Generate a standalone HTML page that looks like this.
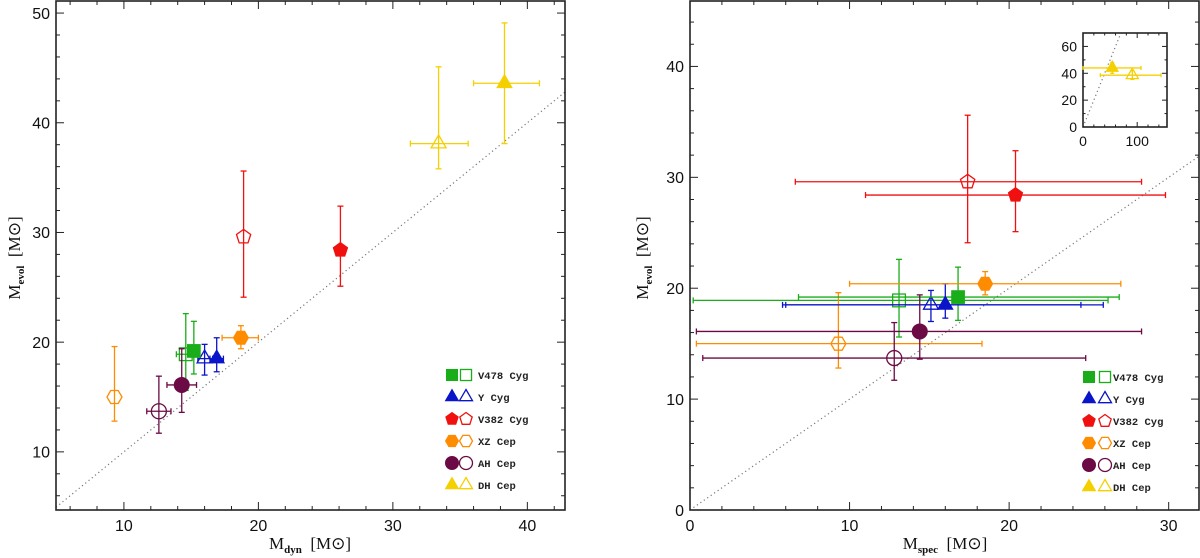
<!DOCTYPE html>
<html><head><meta charset="utf-8"><style>
html,body{margin:0;padding:0;background:#fff;}
svg{display:block;font-family:"Liberation Sans",sans-serif;}
</style></head><body>
<svg id="chart" width="1200" height="558" viewBox="0 0 1200 558" xmlns="http://www.w3.org/2000/svg"></svg>
<script>
const NS="http://www.w3.org/2000/svg";
const svg=document.getElementById('chart');
// ---- data ----
const stars=["V478 Cyg","Y Cyg","V382 Cyg","XZ Cep","AH Cep","DH Cep"];
const starColors=["#1aad1a","#0a14c8","#f01010","#ff8c00","#6b0a44","#f5d000"];
const starShapes=["square","triangle","pentagon","hexagon","circle","triangle"];
// left panel: Mdyn vs Mevol ; [x, xlo, xhi, y, ylo, yhi]
const dynFilled=[[15.2,14.9,15.5,19.2,17.1,21.9],[16.9,16.4,17.4,18.5,17.3,20.4],[26.1,26.1,26.1,28.4,25.1,32.4],[18.7,17.3,20.0,20.4,19.4,21.5],[14.3,13.2,15.4,16.1,13.6,19.4],[38.3,36.0,40.9,43.6,38.1,49.1]];
const dynOpen=[[14.6,13.9,15.3,18.9,15.6,22.6],[16.0,15.5,16.6,18.5,17.0,19.8],[18.9,18.9,18.9,29.6,24.1,35.6],[9.3,9.3,9.3,15.0,12.8,19.6],[12.6,11.7,13.5,13.7,11.7,16.9],[33.4,31.3,35.6,38.1,35.8,45.1]];
// right panel: Mspec vs Mevol
const specFilled=[[16.8,6.8,26.9,19.2,17.1,21.9],[16.0,6.0,25.9,18.5,17.3,20.4],[20.4,11.0,29.8,28.4,25.1,32.4],[18.5,10.0,27.0,20.4,19.4,21.5],[14.4,0.4,28.3,16.1,13.6,19.4]];
const specOpen=[[13.1,0.2,26.2,18.9,15.6,22.6],[15.1,5.8,24.5,18.5,17.0,19.8],[17.4,6.6,28.3,29.6,24.1,35.6],[9.3,0.4,18.3,15.0,12.8,19.6],[12.8,0.8,24.8,13.7,11.7,16.9]];
const insetFilled=[[54,0,107,44,40,48]];
const insetOpen=[[91,32,144,38.6,35.5,42]];
const leftXTicks=[10,20,30,40], leftYTicks=[10,20,30,40,50];
const rightXTicks=[0,10,20,30], rightYTicks=[0,10,20,30,40];
const insetXTicks=[0,100], insetYTicks=[0,20,40,60];

function el(tag,attrs,parent){const e=document.createElementNS(NS,tag);for(const k in attrs)e.setAttribute(k,attrs[k]);(parent||svg).appendChild(e);return e;}
function shapePts(shape,cx,cy,r){
  let n,rot;
  if(shape==="triangle"){n=3;rot=-90;r*=1.15;}
  else if(shape==="pentagon"){n=5;rot=-90;}
  else if(shape==="hexagon"){n=6;rot=0;}
  const p=[];for(let i=0;i<n;i++){const a=(rot+i*360/n)*Math.PI/180;p.push((cx+r*Math.cos(a)).toFixed(1)+","+(cy+r*Math.sin(a)).toFixed(1));}
  return p.join(" ");
}
function marker(g,shape,cx,cy,r,color,filled,name){
  const fill=filled?color:"none";const sw=filled?1:1.3;let m;
  if(shape==="square")m=el('rect',{x:cx-r*0.85,y:cy-r*0.85,width:r*1.7,height:r*1.7,fill:fill,stroke:color,'stroke-width':sw},g);
  else if(shape==="circle")m=el('circle',{cx:cx,cy:cy,r:r,fill:fill,stroke:color,'stroke-width':sw},g);
  else m=el('polygon',{points:shapePts(shape,cx,cy,r),fill:fill,stroke:color,'stroke-width':sw},g);
  
  
  return m;
}
function panel(o){
  const g=el('g',{});
  
  
  const sx=v=>o.x0+(v-o.xmin)/(o.xmax-o.xmin)*(o.x1-o.x0);
  const sy=v=>o.y1-(v-o.ymin)/(o.ymax-o.ymin)*(o.y1-o.y0);
  const lo=Math.max(o.xmin,o.ymin),hi=Math.min(o.xmax,o.ymax);
  const d=el('line',{x1:sx(lo),y1:sy(lo),x2:sx(hi),y2:sy(hi),stroke:"#777",'stroke-width':1.2,'stroke-dasharray':"1.2,3"},g);
  
  
  const tl=o.tick||8, ts=o.tick?o.tick/2:4;
  for(let v=Math.ceil(o.xmin/o.xminor)*o.xminor;v<=o.xmax+1e-9;v+=o.xminor){
    const major=Math.abs(v/o.xmajor-Math.round(v/o.xmajor))<1e-6;const L=major?tl:ts;const X=sx(v);
    el('line',{x1:X,y1:o.y1,x2:X,y2:o.y1-L,stroke:"#222",'stroke-width':1},g);
    el('line',{x1:X,y1:o.y0,x2:X,y2:o.y0+L,stroke:"#222",'stroke-width':1},g);
  }
  for(let v=Math.ceil(o.ymin/o.yminor)*o.yminor;v<=o.ymax+1e-9;v+=o.yminor){
    const major=Math.abs(v/o.ymajor-Math.round(v/o.ymajor))<1e-6;const L=major?tl:ts;const Y=sy(v);
    el('line',{x1:o.x0,y1:Y,x2:o.x0+L,y2:Y,stroke:"#222",'stroke-width':1},g);
    el('line',{x1:o.x1,y1:Y,x2:o.x1-L,y2:Y,stroke:"#222",'stroke-width':1},g);
  }
  o.xticks.forEach(v=>{const t=el('text',{x:sx(v),y:o.y1+o.fs+5,'font-size':o.fs,'text-anchor':'middle',fill:'#111'},g);t.textContent=v;
    });
  o.yticks.forEach(v=>{const t=el('text',{x:o.x0-6,y:sy(v)+o.fs*0.36,'font-size':o.fs,'text-anchor':'end',fill:'#111'},g);t.textContent=v;
    });
  const fr=el('rect',{x:o.x0,y:o.y0,width:o.x1-o.x0,height:o.y1-o.y0,fill:'none',stroke:'#222','stroke-width':1.6},g);
  
  function draw(arr,filled){
    arr.forEach((p,i)=>{
      const idx=o.idx?o.idx[i]:i;const c=starColors[idx];
      const pg=el('g',{},g);
      
      
      const cap=o.cap||3;
      if(p[2]>p[1]){el('line',{x1:sx(p[1]),y1:sy(p[3]),x2:sx(p[2]),y2:sy(p[3]),stroke:c,'stroke-width':1.3},pg);
        el('line',{x1:sx(p[1]),y1:sy(p[3])-cap,x2:sx(p[1]),y2:sy(p[3])+cap,stroke:c,'stroke-width':1.3},pg);
        el('line',{x1:sx(p[2]),y1:sy(p[3])-cap,x2:sx(p[2]),y2:sy(p[3])+cap,stroke:c,'stroke-width':1.3},pg);}
      el('line',{x1:sx(p[0]),y1:sy(p[4]),x2:sx(p[0]),y2:sy(p[5]),stroke:c,'stroke-width':1.3},pg);
      el('line',{x1:sx(p[0])-cap,y1:sy(p[4]),x2:sx(p[0])+cap,y2:sy(p[4]),stroke:c,'stroke-width':1.3},pg);
      el('line',{x1:sx(p[0])-cap,y1:sy(p[5]),x2:sx(p[0])+cap,y2:sy(p[5]),stroke:c,'stroke-width':1.3},pg);
      marker(pg,starShapes[idx],sx(p[0]),sy(p[3]),o.mr||7.5,c,filled,'marker');
    });
  }
  draw(o.open,false);draw(o.filled,true);
  return g;
}
panel({name:'left-panel',x0:56,x1:565,y0:1,y1:510,xmin:4.95,xmax:42.8,ymin:4.7,ymax:51.1,xmajor:10,xminor:2,ymajor:10,yminor:2,xticks:leftXTicks,yticks:leftYTicks,fs:16,filled:dynFilled,open:dynOpen});
panel({name:'right-panel',x0:690,x1:1199,y0:1,y1:510,xmin:0,xmax:31.9,ymin:0,ymax:45.9,xmajor:10,xminor:2,ymajor:10,yminor:2,xticks:rightXTicks,yticks:rightYTicks,fs:16,filled:specFilled,open:specOpen});
panel({name:'inset-panel',x0:1083,x1:1167,y0:33,y1:127,xmin:0,xmax:155,ymin:0,ymax:70,xmajor:100,xminor:20,ymajor:20,yminor:10,xticks:insetXTicks,yticks:insetYTicks,fs:14,tick:5,mr:6,cap:2,filled:insetFilled,open:insetOpen,idx:[5]});

function title(x,y,sub,rot,name){
  const t=el('text',{x:x,y:y,'font-family':'Liberation Serif, serif','font-size':17,'text-anchor':'middle',fill:'#111',transform:rot?`rotate(-90 ${x} ${y})`:''});
  
  const a=el('tspan',{},t);a.textContent='M';
  const b=el('tspan',{'font-size':11,dy:4,'font-weight':'bold'},t);b.textContent=sub;
  const c=el('tspan',{dy:-4},t);c.textContent='\u00a0\u00a0[M⊙]';
}
title(310,549,'dyn',false,'x-axis-title-left');
title(945,549,'spec',false,'x-axis-title-right');
title(20,258,'evol',true,'y-axis-title-left');
title(648,258,'evol',true,'y-axis-title-right');

function legend(mx1,mx2,tx,y0,dy,name){
  const g=el('g',{});
  stars.forEach((s,i)=>{
    const y=y0+i*dy;const eg=el('g',{},g);
    
    marker(eg,starShapes[i],mx1,y,6.5,starColors[i],true,'legend-filled-marker');
    marker(eg,starShapes[i],mx2,y,6.5,starColors[i],false,'legend-open-marker');
    const t=el('text',{x:tx,y:y+4,'font-family':'Liberation Mono, monospace','font-weight':'bold','font-size':10.5,fill:'#222'},eg);t.textContent=s;
  });
}
legend(452,466,478,375,22,'legend-left');
legend(1089,1105,1113,377,22,'legend-right');
</script>
</body></html>
